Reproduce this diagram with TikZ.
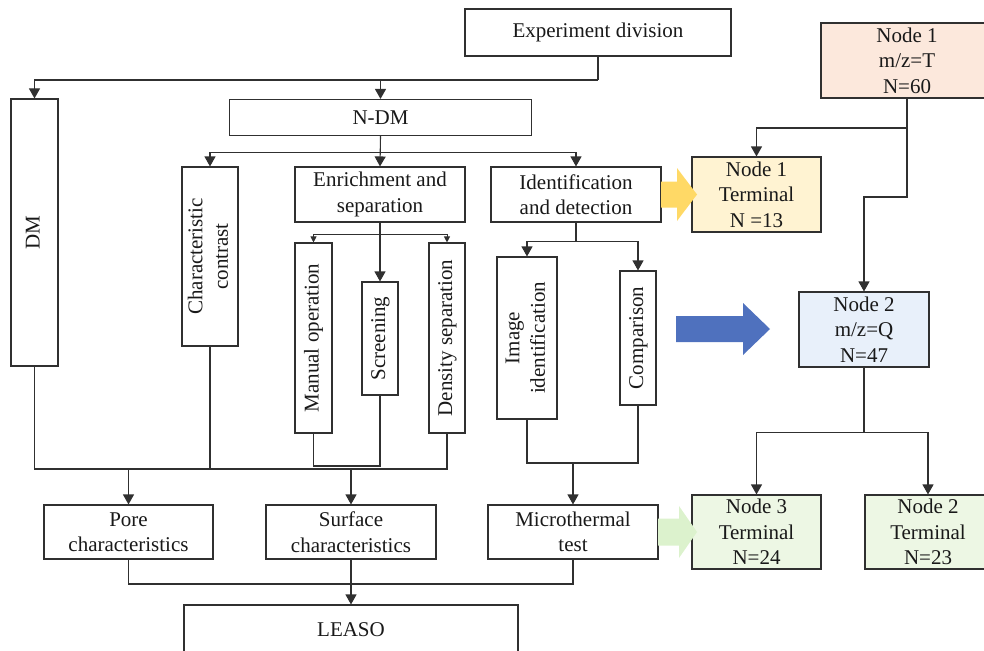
\documentclass[tikz,border=0pt]{standalone}
\usepackage{fontspec}
\setmainfont{Liberation Serif}
\usetikzlibrary{arrows.meta,positioning}
\definecolor{lnc}{HTML}{303030}
\definecolor{nodepeach}{HTML}{FCE8DC}
\definecolor{nodeyellow}{HTML}{FFF3D2}
\definecolor{nodeblue}{HTML}{E8F0FA}
\definecolor{nodegreen}{HTML}{EDF7E4}
\definecolor{arryellow}{HTML}{FFD966}
\definecolor{arrblue}{HTML}{4F71BE}
\definecolor{arrgreen}{HTML}{DCF2CD}
\newcommand{\vtext}[1]{\rotatebox{90}{\begin{tabular}{@{}c@{}}#1\end{tabular}}}

\begin{document}
\begin{tikzpicture}[
x=1pt,y=-1pt,
box/.style={draw=lnc,line width=1.1pt,fill=white,inner sep=0pt,align=center,
text=black!90,font=\fontsize{21}{25.5}\selectfont},
arr/.style={-{Triangle[length=10pt,width=11pt]},line width=1.1pt,draw=lnc},
sarr/.style={-{Triangle[length=6pt,width=6pt]},line width=1pt,draw=lnc},
ln/.style={line width=1.1pt,draw=lnc}
]
\useasboundingbox (0,0) rectangle (984,650);
% left part
\node[box,minimum width=266pt,minimum height=47pt] (exp) at (598,32.5) {Experiment division};
\node[box,minimum width=47pt,minimum height=267pt] (dm) at (34.5,232.5) {\vtext{DM}};
\node[box,minimum width=302pt,minimum height=36pt] (ndm) at (380.5,117.5) {N-DM};
\node[box,minimum width=56pt,minimum height=179pt] (cc) at (210,256.5) {\vtext{Characteristic\\contrast}};
\node[box,minimum width=170pt,minimum height=55pt] (es) at (380,194.5) {Enrichment and\\separation};
\node[box,minimum width=170pt,minimum height=55pt] (id) at (576,194.5) {Identification\\and detection};
\node[box,minimum width=37pt,minimum height=190pt] (mo) at (313.5,338) {\vtext{Manual operation}};
\node[box,minimum width=36pt,minimum height=113pt] (sc) at (380,338.5) {\vtext{Screening}};
\node[box,minimum width=36pt,minimum height=190pt] (ds) at (447,338) {\vtext{Density separation}};
\node[box,minimum width=60pt,minimum height=162pt] (ii) at (527,338) {\vtext{Image\\identification}};
\node[box,minimum width=36pt,minimum height=134pt] (cmp) at (638,338) {\vtext{Comparison}};
\node[box,minimum width=169pt,minimum height=54pt] (pore) at (128.5,532) {Pore\\characteristics};
\node[box,minimum width=170pt,minimum height=54pt] (surf) at (351,532) {Surface\\characteristics};
\node[box,minimum width=170pt,minimum height=54pt] (micro) at (573,532) {Microthermal\\test};
\node[box,minimum width=334pt,minimum height=50pt] (leaso) at (351,630) {LEASO};
% right part
\node[box,fill=nodepeach,minimum width=172pt,minimum height=75pt] (n1) at (907,60.5) {Node 1\\m/z=T\\N=60};
\node[box,fill=nodeyellow,minimum width=129pt,minimum height=75pt] (t1) at (756.5,194.5) {Node 1\\Terminal\\N =13};
\node[box,fill=nodeblue,minimum width=130pt,minimum height=75pt] (n2) at (864,329.5) {Node 2\\m/z=Q\\N=47};
\node[box,fill=nodegreen,minimum width=129pt,minimum height=74pt] (t3) at (756.5,532) {Node 3\\Terminal\\N=24};
\node[box,fill=nodegreen,minimum width=126pt,minimum height=74pt] (t2) at (928,532) {Node 2\\Terminal\\N=23};
% junctions
\coordinate (j0) at (598,80);
\coordinate[below=16pt of ndm.south] (j1);
\coordinate[below=12pt of es.south] (j2);
\coordinate (j3) at (380,466);
\coordinate (j4) at (208,469);
\coordinate[below=19pt of id.south] (j5);
\coordinate (j6) at (573,463);
\coordinate (j7) at (351,584);
\coordinate (j8) at (907,197);
\coordinate (j9) at (907,128);
\coordinate[below=65pt of n2.south] (j10);
% connectors
\draw[ln] (exp.south) -- (j0);
\draw[arr] (j0) -| (dm.north);
\draw[arr] (j0 -| ndm.north) -- (ndm.north);
\draw[arr] (ndm.south) -- (es.north);
\foreach \b in {cc,id}
\draw[arr] (j1) -| (\b.north);
\draw[arr] (es.south) -- (sc.north);
\foreach \b in {mo,ds}
\draw[sarr] (j2) -| (\b.north);
\draw[ln] (mo.south) |- (j3) -- (sc.south);
\draw[ln] (dm.south) |- (ds.south |- j4) -- (ds.south);
\draw[ln] (cc.south) -- (cc.south |- j4);
\foreach \b in {pore,surf}
\draw[arr] (\b.north |- j4) -- (\b.north);
\draw[ln] (id.south) -- (j5);
\foreach \b in {ii,cmp}
\draw[arr] (j5) -| (\b.north);
\draw[ln] (ii.south) |- (cmp.south |- j6) -- (cmp.south);
\draw[arr] (micro.north |- j6) -- (micro.north);
\draw[ln] (pore.south) |- (micro.south |- j7) -- (micro.south);
\draw[arr] (surf.south) -- (leaso.north);
\draw[arr] (n1.south) -- (j8) -| (n2.north);
\draw[arr] (j9) -| (t1.north);
\draw[ln] (n2.south) -- (j10);
\foreach \b in {t3,t2}
\draw[arr] (j10) -| (\b.north);
% block arrows
\fill[arryellow] (661,181.5) -- (677,181.5) -- (677,168) -- (697,194.5)
  -- (677,221) -- (677,207.5) -- (661,207.5) -- cycle;
\fill[arrblue] (676,316) -- (743,316) -- (743,303) -- (770,329)
  -- (743,355) -- (743,342) -- (676,342) -- cycle;
\fill[arrgreen] (658,518.5) -- (679,518.5) -- (679,506) -- (697,532)
  -- (679,558) -- (679,545.5) -- (658,545.5) -- cycle;
\end{tikzpicture}
\end{document}
